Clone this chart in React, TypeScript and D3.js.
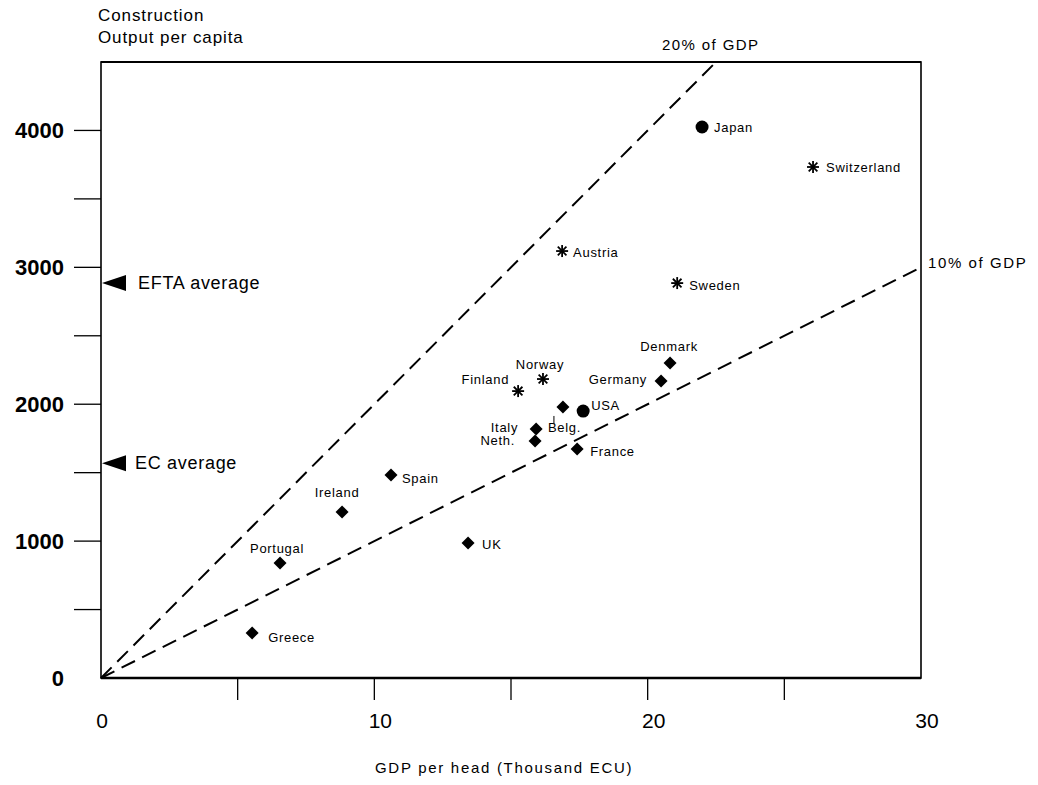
import React from "react";
import * as d3 from "d3";

const countries = ["Japan", "Switzerland", "Austria", "Sweden", "Denmark", "Germany", "Norway", "Finland", "Belg.", "USA", "Italy", "Neth.", "France", "Spain", "Ireland", "UK", "Portugal", "Greece"];
const gdpPerHead = [21.99, 26.05, 16.87, 21.08, 20.82, 20.49, 16.17, 15.26, 16.9, 17.64, 15.92, 15.88, 17.42, 10.61, 8.82, 13.43, 6.55, 5.53];
const constructionOutput = [4025, 3733, 3119, 2885, 2301, 2169, 2184, 2096, 1980, 1950, 1819, 1731, 1673, 1483, 1213, 986, 840, 329];
const groups = ["other", "efta", "efta", "efta", "ec", "ec", "efta", "efta", "ec", "other", "ec", "ec", "ec", "ec", "ec", "ec", "ec", "ec"];

const xTicks = [0, 10, 20, 30];
const xMinorTicks = [5, 10, 15, 20, 25];
const yTicks = [0, 1000, 2000, 3000, 4000];
const yMinorTicks = [500, 1000, 1500, 2000, 2500, 3000, 3500, 4000];

const averageNames = ["EFTA average", "EC average"];
const averageValues = [2885, 1569];
const shareNames = ["20% of GDP", "10% of GDP"];
const shareValues = [0.2, 0.1];

// label placement (layout only): anchor, dx, dy relative to marker
const labelLayout: [string, number, number][] = [
  ["start", 12, 5], ["start", 13, 5], ["start", 11, 6], ["start", 12, 7],
  ["middle", -1, -12], ["end", -14, 3], ["middle", -3, -10], ["end", -9, -7],
  ["start", -15, 25], ["start", 8, -1], ["end", -18, 3], ["end", -20, 4],
  ["start", 13, 7], ["start", 11, 8], ["middle", -5, -15], ["start", 14, 6],
  ["middle", -3, -10], ["start", 16, 9],
];

const W = 1038, H = 785;
const L = 101, R = 921, T = 62, B = 678;
const FONT = "'Liberation Sans', Arial, Helvetica, sans-serif";

export default function App() {
  const x = d3.scaleLinear().domain([0, 30]).range([L, R]);
  const y = d3.scaleLinear().domain([0, 4500]).range([B, T]);

  const marker = (g: string, cx: number, cy: number, i: number) => {
    if (g === "ec") {
      const s = 6.5;
      return <path key={"m" + i} d={`M${cx},${cy - s}L${cx + s},${cy}L${cx},${cy + s}L${cx - s},${cy}Z`} fill="#000" />;
    }
    if (g === "other") {
      return <circle key={"m" + i} cx={cx} cy={cy} r={6.5} fill="#000" />;
    }
    const r = 6;
    const d = r * 0.72;
    return (
      <g key={"m" + i} stroke="#000" strokeWidth={1.8}>
        <line x1={cx} y1={cy - r} x2={cx} y2={cy + r} />
        <line x1={cx - r} y1={cy} x2={cx + r} y2={cy} />
        <line x1={cx - d} y1={cy - d} x2={cx + d} y2={cy + d} />
        <line x1={cx - d} y1={cy + d} x2={cx + d} y2={cy - d} />
      </g>
    );
  };

  const label = (name: string, cx: number, cy: number, i: number) => {
    const [anchor, dx, dy] = labelLayout[i];
    return (
      <g key={"l" + i}>
        {name === "Belg." && (
          <line x1={cx - 9} y1={cy + 9} x2={cx - 9} y2={cy + 17} stroke="#000" strokeWidth={1} />
        )}
        <text x={cx + dx} y={cy + dy} fontSize={13} letterSpacing={0.7} fontFamily={FONT} textAnchor={anchor}>{name}</text>
      </g>
    );
  };

  const shareLine = (share: number) => {
    const xEnd = Math.min(30, 4500 / (share * 1000));
    return { x1: x(0), y1: y(0), x2: x(xEnd), y2: y(share * 1000 * xEnd) };
  };

  return (
    <svg width={W} height={H} style={{ position: "absolute", left: 0, top: 0, background: "#fff" }}>
      <rect x={0} y={0} width={W} height={H} fill="#fff" />
      {/* frame */}
      <rect x={L} y={T} width={R - L} height={B - T} fill="none" stroke="#000" strokeWidth={1.6} />
      <line x1={L} y1={T} x2={R} y2={T} stroke="#000" strokeWidth={2} />
      <line x1={L} y1={B} x2={R} y2={B} stroke="#000" strokeWidth={2.5} />

      {/* share lines */}
      {shareValues.map((s, i) => {
        const p = shareLine(s);
        return <line key={"s" + i} {...p} stroke="#000" strokeWidth={2} strokeDasharray="15,8" />;
      })}
      <text x={662} y={50} fontSize={15} letterSpacing={1.4} fontFamily={FONT}>{shareNames[0]}</text>
      <text x={R + 7} y={y(3000) + 1} fontSize={15} letterSpacing={1.6} fontFamily={FONT}>{shareNames[1]}</text>

      {/* y ticks */}
      {yMinorTicks.map((t) => (
        <line key={"yt" + t} x1={L - 27} x2={L} y1={y(t)} y2={y(t)} stroke="#000" strokeWidth={1.3} />
      ))}
      {yTicks.map((t) => (
        <text key={"yl" + t} x={L - 37} y={y(t) + 8} fontSize={22} fontWeight="bold" fontFamily={FONT} textAnchor="end">{t}</text>
      ))}

      {/* x ticks */}
      {xMinorTicks.map((t) => (
        <line key={"xt" + t} x1={x(t)} x2={x(t)} y1={B} y2={B + 22} stroke="#000" strokeWidth={1.3} />
      ))}
      {xTicks.map((t) => (
        <text key={"xl" + t} x={x(t) + (t === 0 ? 1 : 6)} y={B + 50} fontSize={21} fontFamily={FONT} textAnchor="middle">{t}</text>
      ))}

      {/* averages */}
      {averageValues.map((v, i) => (
        <g key={"a" + i}>
          <path d={`M${L + 1},${y(v)}L${L + 25},${y(v) - 8}L${L + 25},${y(v) + 8}Z`} fill="#000" />
          <text x={L + 37 - i * 3} y={y(v) + 6} fontSize={18} letterSpacing={0.7} fontFamily={FONT}>{averageNames[i]}</text>
        </g>
      ))}

      {/* points */}
      {countries.map((c, i) => marker(groups[i], x(gdpPerHead[i]), y(constructionOutput[i]), i))}
      {countries.map((c, i) => label(c, x(gdpPerHead[i]), y(constructionOutput[i]), i))}

      {/* titles */}
      <text x={98} y={21} fontSize={17} letterSpacing={0.9} fontFamily={FONT}>Construction</text>
      <text x={98} y={43} fontSize={17} letterSpacing={0.9} fontFamily={FONT}>Output per capita</text>
      <text x={375} y={773} fontSize={15} letterSpacing={1.7} fontFamily={FONT}>GDP per head (Thousand ECU)</text>
    </svg>
  );
}
